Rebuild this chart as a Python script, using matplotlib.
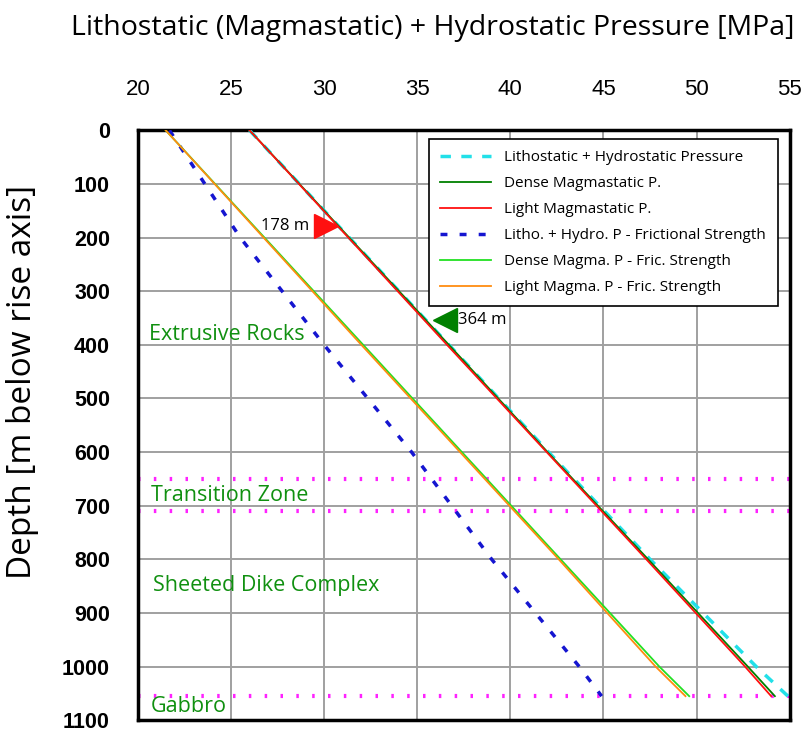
import matplotlib
matplotlib.use("Agg")
import matplotlib.pyplot as plt

# ---- data ----
depths = [0, 200, 400, 600, 800, 1000, 1055]
litho_hydro = [26.0, 31.35, 36.7, 42.05, 47.5, 53.2, 54.9]
dense_magma = [26.0, 31.35, 36.7, 42.0, 47.4, 52.75, 54.2]
light_magma = [26.0, 31.3, 36.6, 41.95, 47.3, 52.6, 54.0]
litho_fric = [21.7, 25.5, 30.0, 34.7, 39.0, 43.7, 44.9]
dense_fric = [21.5, 26.8, 32.1, 37.4, 42.7, 48.0, 49.6]
light_fric = [21.5, 26.75, 32.0, 37.3, 42.6, 47.8, 49.4]

zone_boundaries = [650, 710, 1055]
zone_labels = ["Extrusive Rocks", "Transition Zone", "Sheeted Dike Complex", "Gabbro"]
zone_label_depths = [380, 680, 848, 1074]

marker_depths = [178, 364]
marker_labels = ["178 m", "364 m"]

xticks = [20, 25, 30, 35, 40, 45, 50, 55]
yticks = [0, 100, 200, 300, 400, 500, 600, 700, 800, 900, 1000, 1100]

casual = ["Open Sans", "DejaVu Sans"]

fig = plt.figure(figsize=(8.01, 7.32), dpi=100)
ax = fig.add_axes([0.172, 0.016, 0.814, 0.806])

ax.set_xlim(20, 55)
ax.set_ylim(1100, 0)
ax.xaxis.tick_top()
ax.set_xticks(xticks)
ax.set_yticks(yticks)
ax.tick_params(axis="x", length=0, pad=22, labelsize=16)
ax.tick_params(axis="y", length=0, pad=20, labelsize=15.5)
for lbl in ax.get_xticklabels():
    lbl.set_family("Liberation Sans")
for lbl in ax.get_yticklabels():
    lbl.set_family("Liberation Sans")
    lbl.set_fontweight("bold")
ax.grid(True, color="#a0a0a0", lw=1.4)
ax.set_axisbelow(True)
for s in ax.spines.values():
    s.set_linewidth(2.5)
    s.set_color("black")

# zone boundaries
for d in zone_boundaries:
    ax.axhline(d, color="#ff22ff", lw=3, ls=(0, (0.6, 3.2)), zorder=2)

ax.plot(litho_hydro + [55.3], depths + [1068], color="#22e0e8", lw=2.5, ls=(0, (3, 3)),
        label="Lithostatic + Hydrostatic Pressure", zorder=3)
ax.plot(dense_magma, depths, color="#008000", lw=1.3, label="Dense Magmastatic P.", zorder=4)
ax.plot(light_magma, depths, color="#ff1010", lw=1.3, label="Light Magmastatic P.", zorder=4)
ax.plot(litho_fric, depths, color="#1515d0", lw=2.5, ls=(0, (2, 3.5)),
        label="Litho. + Hydro. P - Frictional Strength", zorder=3)
ax.plot(dense_fric, depths, color="#22e022", lw=1.3, label="Dense Magma. P - Fric. Strength", zorder=4)
ax.plot(light_fric, depths, color="#ff8c10", lw=1.3, label="Light Magma. P - Fric. Strength", zorder=4)

leg = ax.legend(loc="upper right", bbox_to_anchor=(0.993, 0.999), prop={"family": casual, "size": 11},
                frameon=True, fancybox=False, edgecolor="black", framealpha=1,
                handlelength=3.3, labelspacing=0.72, borderpad=0.75, handletextpad=0.9)
leg.get_frame().set_linewidth(1.2)

# markers
ax.plot([30.1], [marker_depths[0]], marker=">", color="#ff1010", markersize=17, ls="none", zorder=5)
ax.text(29.2, marker_depths[0], marker_labels[0], ha="right", va="center", fontsize=12,
        family=casual, zorder=5)
ax.plot([36.5], [marker_depths[1] - 10], marker="<", color="#008000", markersize=17, ls="none", zorder=5)
ax.text(37.2, marker_depths[1] - 10, marker_labels[1], ha="left", va="center", fontsize=12,
        family=casual, zorder=5)

xs = [20.6, 20.7, 20.8, 20.7]
for lbl, d, x in zip(zone_labels, zone_label_depths, xs):
    ax.text(x, d, lbl, color="#109010", fontsize=15.5, family=casual, ha="left", va="center", zorder=5)

fig.text(0.54, 0.962, "Lithostatic (Magmastatic) + Hydrostatic Pressure [MPa]", ha="center", va="center",
         fontsize=20.5, family=casual)
fig.text(0.028, 0.478, "Depth [m below rise axis]", rotation=90, ha="center", va="center",
         fontsize=24, family=casual)

fig.savefig("out.png", dpi=100)
